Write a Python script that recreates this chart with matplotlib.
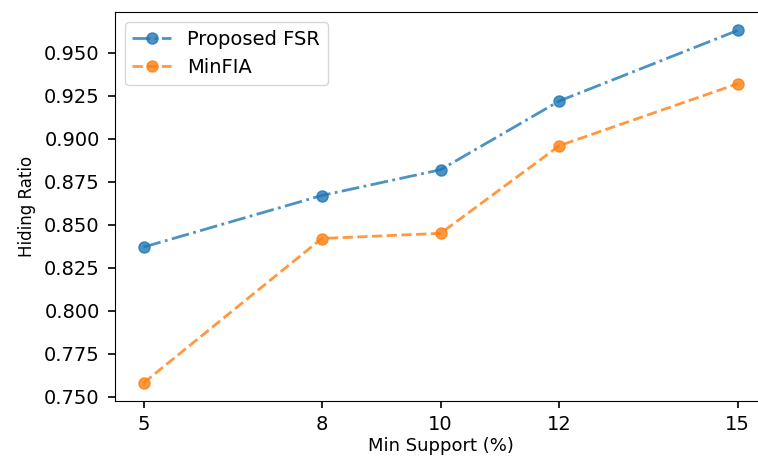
import matplotlib
matplotlib.use('Agg')
import matplotlib.pyplot as plt

# hiding ratio vs. minimum support
min_support = [5, 8, 10, 12, 15]
fsr_ratio = [0.837, 0.867, 0.882, 0.922, 0.963]
minfia_ratio = [0.758, 0.842, 0.845, 0.896, 0.932]

plt.rcParams['font.size'] = 14

fig = plt.figure(figsize=(7.58, 4.57), dpi=100)
ax = fig.add_axes([0.1517, 0.1225, 0.8607, 0.8512])

ax.plot(min_support, fsr_ratio, '-.o', color='tab:blue', alpha=0.8,
        linewidth=2, markersize=8, label='Proposed FSR')
ax.plot(min_support, minfia_ratio, '--o', color='tab:orange', alpha=0.8,
        linewidth=2, markersize=8, label='MinFIA')

ax.set_xticks(min_support)
ax.set_xlim(4.52, 15.5)
ax.set_ylim(0.7475, 0.9737)
ax.set_yticks([0.75, 0.775, 0.8, 0.825, 0.85, 0.875, 0.9, 0.925, 0.95])
ax.yaxis.set_major_formatter(matplotlib.ticker.FormatStrFormatter('%.3f'))
ax.tick_params(length=5, width=1.2, labelsize=14)
ax.tick_params(axis='y', pad=6)
ax.tick_params(axis='x', pad=5)
ax.spines['right'].set_visible(False)

ax.set_xlabel('Min Support (%)', fontsize=13, labelpad=2)
ax.set_ylabel('Hiding Ratio', fontsize=12, labelpad=6)
ax.legend(loc='upper left', fontsize=14)

fig.savefig('out.png', dpi=100)
